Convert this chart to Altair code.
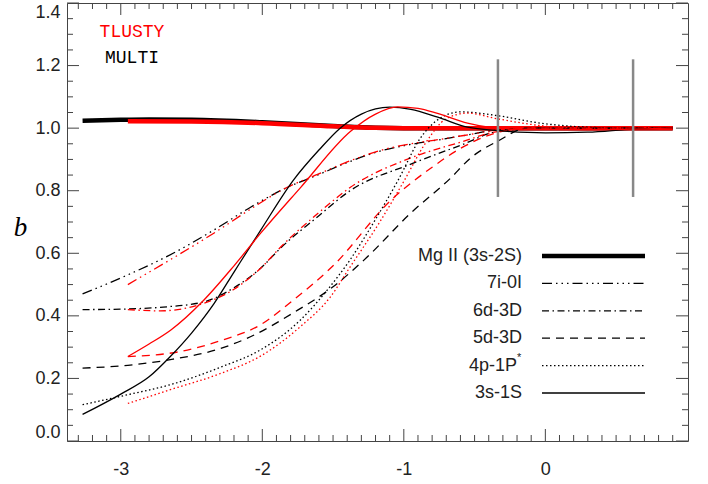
import altair as alt
import pandas as pd

# ---------------- data ----------------
X_DOMAIN = [-3.38, 1.008]
Y_DOMAIN = [0.0, 1.4]

x_major = [-3, -2, -1, 0]
x_minor = [round(-3.3 + 0.1 * i, 2) for i in range(43) if abs(round(-3.3 + 0.1 * i, 2) - round(-3.3 + 0.1 * i)) > 1e-6]
y_major = [0.0, 0.2, 0.4, 0.6, 0.8, 1.0, 1.2, 1.4]
y_minor = [round(0.05 * i, 2) for i in range(1, 28) if i % 4 != 0]

# Mg II (3s-2S) ground state, thick
mg_multi_x = [-3.27, -3.0, -2.8, -2.5, -2.0, -1.5, -1.2, -1.0, -0.5, 0.0, 0.5, 0.9]
mg_multi_y = [1.024, 1.027, 1.028, 1.027, 1.019, 1.007, 1.001, 1.0, 1.0, 1.0, 1.0, 1.0]
mg_tlusty_x = [-2.95, -2.5, -2.0, -1.5, -1.2, -1.0, -0.5, 0.0, 0.5, 0.9]
mg_tlusty_y = [1.022, 1.021, 1.016, 1.006, 1.001, 1.0, 1.0, 1.0, 1.0, 1.0]

# 3s-1S (solid)
s3_multi_x = [-3.27, -3.0, -2.8, -2.65, -2.5, -2.34, -2.2, -2.01, -1.78, -1.6, -1.45, -1.3, -1.1, -0.95, -0.76, -0.55, -0.33, 0.0, 0.3, 0.62, 0.9]
s3_multi_y = [0.085, 0.15, 0.205, 0.27, 0.345, 0.44, 0.54, 0.675, 0.834, 0.93, 1.0, 1.045, 1.067, 1.06, 1.035, 1.003, 0.992, 0.985, 0.987, 0.997, 1.0]
s3_tlusty_x = [-2.95, -2.8, -2.646, -2.414, -2.2, -2.01, -1.73, -1.376, -1.2, -1.044, -0.9, -0.762, -0.55, -0.4, -0.2, 0.3, 0.9]
s3_tlusty_y = [0.27, 0.31, 0.355, 0.45, 0.56, 0.665, 0.81, 0.99, 1.045, 1.068, 1.063, 1.047, 1.016, 1.003, 0.997, 0.995, 1.0]

# 4p-1P* (dotted)
p4_multi_x = [-3.27, -2.95, -2.65, -2.3, -2.01, -1.73, -1.54, -1.38, -1.19, -1.04, -0.88, -0.75, -0.6, -0.34, -0.035, 0.3, 0.6, 0.9]
p4_multi_y = [0.116, 0.148, 0.18, 0.235, 0.292, 0.387, 0.483, 0.579, 0.716, 0.834, 0.97, 1.03, 1.052, 1.04, 1.016, 1.003, 1.0, 1.0]
p4_tlusty_x = [-2.95, -2.65, -2.3, -2.01, -1.73, -1.52, -1.38, -1.17, -1.0, -0.85, -0.7, -0.55, -0.34, -0.03, 0.3, 0.9]
p4_tlusty_y = [0.12, 0.164, 0.215, 0.272, 0.366, 0.46, 0.556, 0.70, 0.83, 0.95, 1.03, 1.048, 1.03, 1.008, 1.0, 1.0]

# 5d-3D (dashed)
d5_multi_x = [-3.27, -2.95, -2.65, -2.3, -2.08, -1.78, -1.5, -1.28, -0.95, -0.67, -0.53, -0.33, -0.13, 0.3, 0.9]
d5_multi_y = [0.233, 0.242, 0.26, 0.295, 0.334, 0.41, 0.493, 0.579, 0.729, 0.84, 0.904, 0.96, 1.0, 1.0, 1.0]
d5_tlusty_x = [-2.95, -2.58, -2.3, -2.01, -1.78, -1.5, -1.09, -0.8, -0.6, -0.33, -0.1, 0.3, 0.9]
d5_tlusty_y = [0.27, 0.286, 0.32, 0.372, 0.451, 0.56, 0.77, 0.875, 0.935, 0.987, 1.0, 1.0, 1.0]

# 6d-3D (dash-dot)
d6_multi_x = [-3.27, -2.95, -2.7, -2.41, -2.2, -2.01, -1.87, -1.6, -1.38, -0.95, -0.6, -0.33, 0.0, 0.9]
d6_multi_y = [0.42, 0.422, 0.428, 0.445, 0.49, 0.553, 0.617, 0.72, 0.80, 0.885, 0.945, 0.99, 1.0, 1.0]
d6_tlusty_x = [-2.95, -2.72, -2.45, -2.2, -2.01, -1.87, -1.6, -1.38, -0.95, -0.6, -0.33, 0.0, 0.9]
d6_tlusty_y = [0.42, 0.416, 0.435, 0.485, 0.553, 0.62, 0.73, 0.81, 0.905, 0.955, 0.99, 1.0, 1.0]

# 7i-0I (dash-dot-dot-dot)
i7_multi_x = [-3.27, -2.95, -2.63, -2.34, -2.08, -1.85, -1.61, -1.4, -1.14, -0.95, -0.76, -0.53, -0.33, 0.0, 0.9]
i7_multi_y = [0.47, 0.531, 0.60, 0.675, 0.748, 0.805, 0.85, 0.89, 0.93, 0.948, 0.962, 0.98, 0.995, 1.0, 1.0]
i7_tlusty_x = [-2.95, -2.63, -2.34, -2.08, -1.85, -1.61, -1.4, -1.14, -0.95, -0.76, -0.53, -0.33, 0.0, 0.9]
i7_tlusty_y = [0.50, 0.585, 0.665, 0.742, 0.805, 0.852, 0.892, 0.932, 0.95, 0.963, 0.98, 0.995, 1.0, 1.0]

# grey vertical markers
vline_x = [-0.335, 0.62]
vline_lo = [0.78, 0.78]
vline_hi = [1.22, 1.22]

model_labels = ["TLUSTY", "MULTI"]
legend_labels = ["Mg II (3s-2S)", "7i-0I", "6d-3D", "5d-3D", "4p-1P", "3s-1S"]
legend_sup = ["", "", "", "", "*", ""]

# ---------------- styles ----------------
W, H = 621, 438
AX = "#444444"
TXT = "#222222"
RED = "#ff0000"
BLK = "#000000"
FONT = "Liberation Sans"
THIN = 1.3
DASH = {
    "Mg II (3s-2S)": None,
    "7i-0I": [10, 4, 1.5, 4, 1.5, 4, 1.5, 4],
    "6d-3D": [7, 3.5, 1.5, 3.5],
    "5d-3D": [8, 6],
    "4p-1P": [1.5, 2.5],
    "3s-1S": None,
}

xscale = alt.Scale(domain=X_DOMAIN, nice=False, zero=False)
yscale = alt.Scale(domain=Y_DOMAIN, nice=False, zero=False)

X_AXIS = alt.Axis(
    values=x_major, ticks=False, domain=False, grid=False, title=None,
    labelFont=FONT, labelFontSize=18, labelColor=TXT, labelPadding=19,
    labelFlush=False, labelOverlap=False,
    labelExpr="datum.value < 0 ? '-' + abs(datum.value) : '' + datum.value")
Y_AXIS = alt.Axis(
    values=y_major, format=".1f", ticks=False, domain=False, grid=False,
    labelFont=FONT, labelFontSize=18, labelColor=TXT, labelPadding=7,
    labelFlush=True, labelOverlap=False,
    title="b", titleAngle=0, titleFont="Liberation Serif", titleFontStyle="italic",
    titleFontWeight="normal", titleFontSize=27, titleColor=BLK,
    titleX=-47, titleY=224, titleAlign="center", titleBaseline="middle")


def X(field):
    return alt.X(field, scale=xscale, axis=X_AXIS)


def Y(field):
    return alt.Y(field, scale=yscale, axis=Y_AXIS)


layers = []


def curve(xs, ys, color, dash, width):
    df = pd.DataFrame({"x": xs, "y": ys})
    kw = dict(color=color, strokeWidth=width, interpolate="monotone")
    if dash:
        kw["strokeDash"] = dash
    return alt.Chart(df).mark_line(**kw).encode(x=X("x:Q"), y=Y("y:Q"))


layers.append(curve(mg_multi_x, mg_multi_y, BLK, None, 4.5))
layers.append(curve(mg_tlusty_x, mg_tlusty_y, RED, None, 4.5))

series = [
    ("7i-0I", i7_multi_x, i7_multi_y, i7_tlusty_x, i7_tlusty_y),
    ("6d-3D", d6_multi_x, d6_multi_y, d6_tlusty_x, d6_tlusty_y),
    ("5d-3D", d5_multi_x, d5_multi_y, d5_tlusty_x, d5_tlusty_y),
    ("4p-1P", p4_multi_x, p4_multi_y, p4_tlusty_x, p4_tlusty_y),
    ("3s-1S", s3_multi_x, s3_multi_y, s3_tlusty_x, s3_tlusty_y),
]
for name, mx, my, tx, ty in series:
    layers.append(curve(mx, my, BLK, DASH[name], THIN))
    layers.append(curve(tx, ty, RED, DASH[name], THIN))

# grey vertical markers
vdf = pd.DataFrame({"x": vline_x, "y": vline_lo, "hi": vline_hi})
layers.append(alt.Chart(vdf).mark_rule(color="#888888", strokeWidth=2.5).encode(
    x=X("x:Q"), y=Y("y:Q"), y2="hi:Q"))


# inward ticks on all four sides
def xticks(vals, length, top):
    df = pd.DataFrame({"x": vals})
    return alt.Chart(df).mark_rule(color=AX, strokeWidth=1).encode(
        x=X("x:Q"),
        y=alt.value(0 if top else H),
        y2=alt.value(length if top else H - length),
    )


def yticks(vals, length, right):
    df = pd.DataFrame({"y": vals})
    return alt.Chart(df).mark_rule(color=AX, strokeWidth=1).encode(
        y=Y("y:Q"),
        x=alt.value(W if right else 0),
        x2=alt.value(W - length if right else length),
    )


for top in (False, True):
    layers.append(xticks(x_major, 12, top))
    layers.append(xticks(x_minor, 6, top))
for right in (False, True):
    layers.append(yticks(y_major, 12, right))
    layers.append(yticks(y_minor, 6, right))

# model labels (top-left)
for lab, col, py in zip(model_labels, [RED, BLK], [29, 55]):
    layers.append(alt.Chart(pd.DataFrame({"t": [lab]})).mark_text(
        font="Liberation Mono", fontSize=18, color=col, align="center", baseline="middle"
    ).encode(text="t:N", x=alt.value(65), y=alt.value(py)))

# legend (labels on the left, line samples on the right)
for i, (lab, sup) in enumerate(zip(legend_labels, legend_sup)):
    ly = 253 + 27.4 * i
    lx = 450 if sup else 455
    layers.append(alt.Chart(pd.DataFrame({"t": [lab]})).mark_text(
        font=FONT, fontSize=18, color=TXT, align="right", baseline="middle"
    ).encode(text="t:N", x=alt.value(lx), y=alt.value(ly)))
    if sup:
        layers.append(alt.Chart(pd.DataFrame({"t": [sup]})).mark_text(
            font=FONT, fontSize=11, color=TXT, align="left", baseline="middle"
        ).encode(text="t:N", x=alt.value(lx), y=alt.value(ly - 8)))
    kw = dict(color=BLK, strokeWidth=4.5 if i == 0 else THIN)
    if DASH[lab]:
        kw["strokeDash"] = DASH[lab]
    layers.append(alt.Chart(pd.DataFrame({"k": [0]})).mark_rule(**kw).encode(
        x=alt.value(475), x2=alt.value(578), y=alt.value(ly)))

chart = alt.layer(*layers).properties(
    width=W, height=H,
    autosize=alt.AutoSizeParams(type="none"),
    padding={"left": 67, "top": 3, "right": 20, "bottom": 43},
    background="white",
).configure_view(stroke=AX, strokeWidth=1)

chart.save("out.html", embed_options={"renderer": "svg", "actions": False})
